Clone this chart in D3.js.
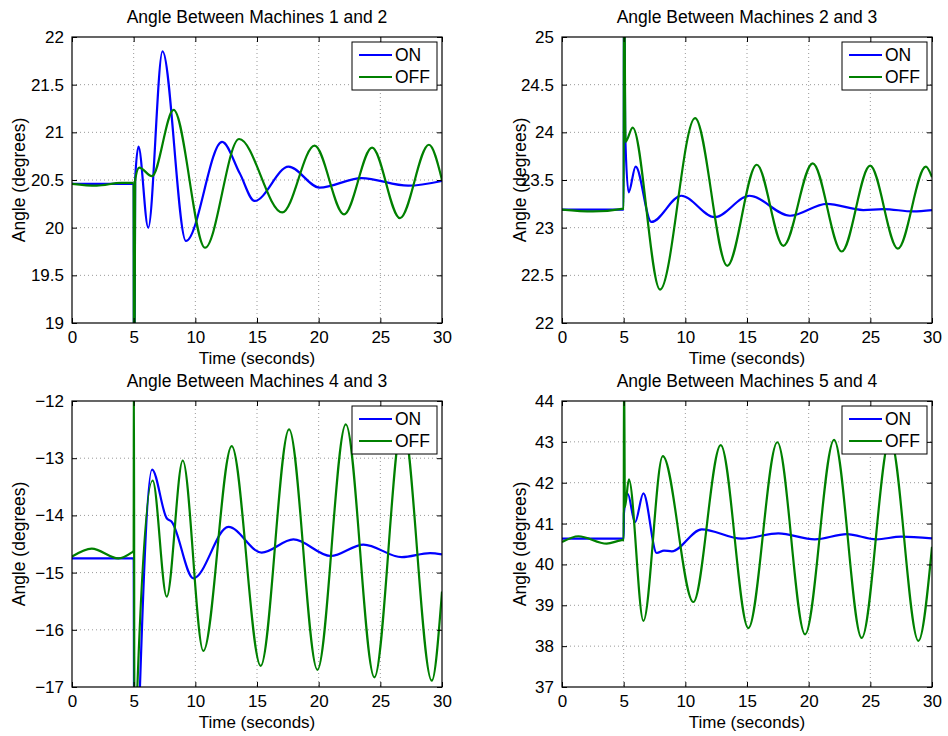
<!DOCTYPE html>
<html>
<head>
<meta charset="utf-8">
<script src="https://cdn.jsdelivr.net/npm/d3@7"></script>
<style>
  body { margin: 0; background: #fff; }
  text { font-family: "Liberation Sans", Arial, Helvetica, sans-serif; fill: #000; }
</style>
</head>
<body>
<div id="chart"></div>
<script>
// series names and panel titles
const seriesNames = ["ON", "OFF"];
const titles = [
  "Angle Between Machines 1 and 2",
  "Angle Between Machines 2 and 3",
  "Angle Between Machines 4 and 3",
  "Angle Between Machines 5 and 4"
];
const timeTicks = [0, 5, 10, 15, 20, 25, 30];

// y ticks of each panel
const yTicks12 = [19, 19.5, 20, 20.5, 21, 21.5, 22];
const yTicks23 = [22, 22.5, 23, 23.5, 24, 24.5, 25];
const yTicks43 = [-17, -16, -15, -14, -13, -12];
const yTicks54 = [37, 38, 39, 40, 41, 42, 43, 44];

// Machines 1 and 2
const t12On  = [0, 5.0, 5.03, 5.12, 5.39, 6.18, 7.34, 9.24, 12.17, 13.6, 14.8, 17.56, 20.08, 23.47, 27.26, 30];
const a12On  = [20.46, 20.46, 17.0, 20.5, 20.85, 20.0, 21.85, 19.86, 20.9, 20.57, 20.28, 20.64, 20.42, 20.52, 20.44, 20.49];
const t12Off = [0, 2, 4, 5.0, 5.03, 5.12, 5.45, 6.48, 8.24, 10.79, 13.55, 17.05, 19.67, 22.06, 24.33, 26.59, 28.94, 30];
const a12Off = [20.46, 20.44, 20.47, 20.47, 17.0, 20.5, 20.63, 20.54, 21.235, 19.79, 20.93, 20.16, 20.86, 20.14, 20.84, 20.1, 20.87, 20.5];

// Machines 2 and 3
const t23On  = [0, 5.0, 5.03, 5.12, 5.4, 5.97, 7.24, 9.67, 12.38, 15.19, 18.49, 21.46, 24.43, 26.05, 28.48, 30];
const a23On  = [23.19, 23.19, 26.0, 24.0, 23.37, 23.64, 23.06, 23.335, 23.11, 23.335, 23.125, 23.25, 23.185, 23.195, 23.17, 23.185];
const t23Off = [0, 2.5, 5.0, 5.03, 5.15, 5.73, 7.95, 10.79, 13.4, 15.79, 17.95, 20.33, 22.68, 24.98, 27.23, 29.5, 30];
const a23Off = [23.19, 23.17, 23.2, 26.0, 23.9, 24.05, 22.35, 24.15, 22.6, 23.66, 22.81, 23.675, 22.75, 23.65, 22.78, 23.64, 23.53];

// Machines 4 and 3
const t43On  = [0, 5.0, 5.05, 5.3, 5.51, 6.49, 7.68, 8.08, 9.84, 12.68, 15.38, 17.95, 20.98, 23.63, 26.74, 29.03, 30];
const a43On  = [-14.75, -14.75, -19.0, -18.5, -17.0, -13.2, -14.05, -14.11, -15.1, -14.2, -14.65, -14.42, -14.71, -14.51, -14.73, -14.66, -14.68];
const t43Off = [0, 1.6, 3.76, 4.76, 5.0, 5.02, 5.06, 5.15, 5.3, 6.54, 7.68, 8.98, 10.65, 12.95, 15.3, 17.6, 19.9, 22.2, 24.52, 26.8, 29.17, 30];
const a43Off = [-14.72, -14.58, -14.75, -14.66, -14.62, -11.0, -18.5, -18.5, -17.0, -13.39, -15.42, -13.04, -16.37, -12.79, -16.63, -12.495, -16.7, -12.41, -16.83, -12.35, -16.89, -15.33];

// Machines 5 and 4
const t54On  = [0, 5.0, 5.02, 5.33, 5.92, 6.6, 7.68, 8.27, 8.9, 11.33, 14.57, 17.54, 20.5, 23.08, 25.5, 27.5, 30];
const a54On  = [40.63, 40.63, 41.25, 41.73, 41.03, 41.74, 40.28, 40.34, 40.32, 40.86, 40.63, 40.76, 40.615, 40.74, 40.615, 40.68, 40.64];
const t54Off = [0, 1.33, 3.62, 4.76, 5.0, 5.03, 5.1, 5.42, 6.6, 8.17, 10.65, 12.87, 15.11, 17.46, 19.71, 22.06, 24.3, 26.6, 28.9, 30];
const a54Off = [40.55, 40.69, 40.51, 40.59, 40.6, 45.0, 41.4, 42.08, 38.62, 42.65, 39.08, 42.92, 38.44, 42.99, 38.29, 43.05, 38.2, 43.1, 38.13, 40.43];

const W = 948, H = 736;
const pw = 370, ph = 286;
const colors = ["#0000ff", "#008000"];

const svg = d3.select("#chart")
    .append("svg")
    .attr("width", W)
    .attr("height", H);

const panels = [
  {left: 72, top: 37, ylabelX: 19, title: titles[0], ticks: yTicks12, on: [t12On, a12On], off: [t12Off, a12Off]},
  {left: 562, top: 37, ylabelX: 520, title: titles[1], ticks: yTicks23, on: [t23On, a23On], off: [t23Off, a23Off]},
  {left: 72, top: 401, ylabelX: 19, title: titles[2], ticks: yTicks43, on: [t43On, a43On], off: [t43Off, a43Off]},
  {left: 562, top: 401, ylabelX: 520, title: titles[3], ticks: yTicks54, on: [t54On, a54On], off: [t54Off, a54Off]}
];

panels.forEach(function(p, i) {
  const x = d3.scaleLinear().domain([0, 30]).range([0, pw]);
  const y = d3.scaleLinear().domain(d3.extent(p.ticks)).range([ph, 0]);

  const g = svg.append("g")
      .attr("transform", `translate(${p.left},${p.top})`);

  // dotted grid
  g.append("g")
      .selectAll("line")
      .data(timeTicks.slice(1, -1))
      .join("line")
      .attr("x1", d => x(d)).attr("x2", d => x(d))
      .attr("y1", 0).attr("y2", ph)
      .attr("stroke", "#999").attr("stroke-dasharray", "1,3");
  g.append("g")
      .selectAll("line")
      .data(p.ticks.slice(1, -1))
      .join("line")
      .attr("x1", 0).attr("x2", pw)
      .attr("y1", d => y(d)).attr("y2", d => y(d))
      .attr("stroke", "#999").attr("stroke-dasharray", "1,3");

  // clip for the curves
  g.append("clipPath")
      .attr("id", "clip" + i)
      .append("rect")
      .attr("width", pw).attr("height", ph);

  const line = d3.line()
      .x(d => x(d[0]))
      .y(d => y(d[1]))
      .curve(d3.curveMonotoneX);

  [p.on, p.off].forEach(function(s, k) {
    g.append("path")
        .datum(d3.zip(s[0], s[1]))
        .attr("clip-path", `url(#clip${i})`)
        .attr("fill", "none")
        .attr("stroke", colors[k])
        .attr("stroke-width", 2.2)
        .attr("d", line);
  });

  // axes: ticks inside, on all four sides
  g.append("g")
      .attr("transform", `translate(0,${ph})`)
      .call(d3.axisBottom(x).tickValues(timeTicks).tickSizeInner(-5).tickSizeOuter(0).tickPadding(8).tickFormat(d3.format("d")));
  g.append("g")
      .call(d3.axisTop(x).tickValues(timeTicks).tickSizeInner(-5).tickSizeOuter(0).tickFormat(""));
  g.append("g")
      .call(d3.axisLeft(y).tickValues(p.ticks).tickSizeInner(-5).tickSizeOuter(0).tickPadding(8).tickFormat(d3.format("")));
  g.append("g")
      .attr("transform", `translate(${pw},0)`)
      .call(d3.axisRight(y).tickValues(p.ticks).tickSizeInner(-5).tickSizeOuter(0).tickFormat(""));

  g.selectAll(".domain").remove();
  g.selectAll(".tick text").attr("font-size", 17).attr("font-family", "Liberation Sans, Arial, sans-serif");
  g.selectAll(".tick line").attr("stroke", "#000");

  g.append("rect")
      .attr("width", pw).attr("height", ph)
      .attr("fill", "none").attr("stroke", "#000").attr("stroke-width", 1.2);

  // titles and labels
  g.append("text")
      .attr("x", pw / 2).attr("y", -14)
      .attr("text-anchor", "middle")
      .attr("font-size", 17.5)
      .text(p.title);
  g.append("text")
      .attr("x", pw / 2).attr("y", ph + 41)
      .attr("text-anchor", "middle")
      .attr("font-size", 17)
      .text("Time (seconds)");
  svg.append("text")
      .attr("transform", `translate(${p.ylabelX + 6},${p.top + ph / 2}) rotate(-90)`)
      .attr("text-anchor", "middle")
      .attr("font-size", 17.5)
      .text("Angle (degrees)");

  // legend
  const lg = g.append("g")
      .attr("transform", `translate(${pw - 90},5)`);
  lg.append("rect")
      .attr("width", 85).attr("height", 48)
      .attr("fill", "#fff").attr("stroke", "#000");
  seriesNames.forEach(function(name, k) {
    lg.append("line")
        .attr("x1", 7).attr("x2", 40)
        .attr("y1", 13 + k * 22).attr("y2", 13 + k * 22)
        .attr("stroke", colors[k]).attr("stroke-width", 2.2);
    lg.append("text")
        .attr("x", 43).attr("y", 13 + k * 22)
        .attr("dy", "0.36em")
        .attr("font-size", 17.5)
        .text(name);
  });
});
</script>
</body>
</html>
